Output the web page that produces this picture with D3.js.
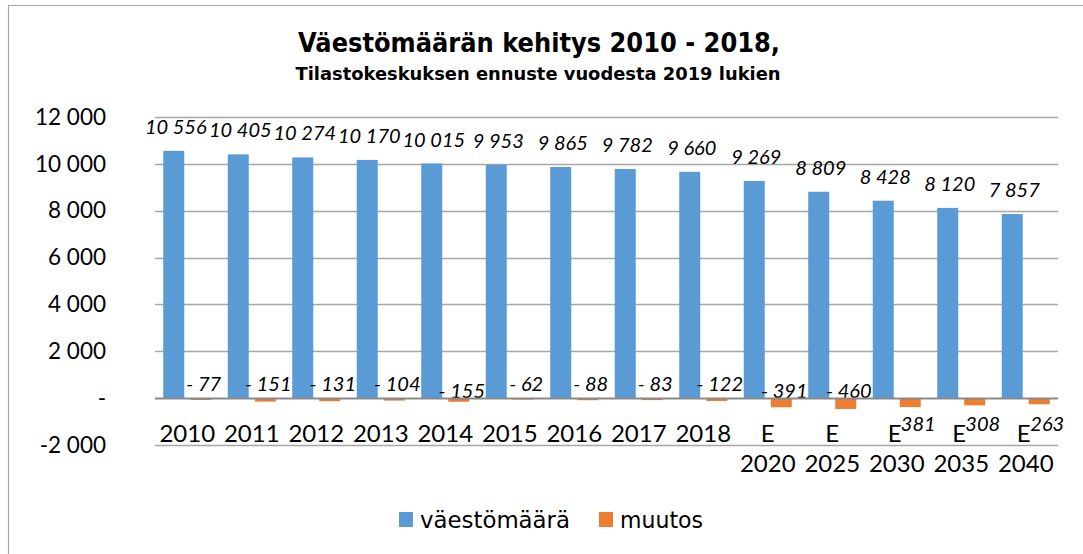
<!DOCTYPE html>
<html>
<head>
<meta charset="utf-8">
<script src="https://cdn.jsdelivr.net/npm/d3@7"></script>
<style>
  body { margin: 0; background: #fff; }
  svg { display: block; }
</style>
</head>
<body>
<svg width="1083" height="554"></svg>
<script>
var categories = ["2010", "2011", "2012", "2013", "2014", "2015", "2016", "2017", "2018",
  "E 2020", "E 2025", "E 2030", "E 2035", "E 2040"];
var seriesNames = ["väestömäärä", "muutos"];
var populationValues = [10556, 10405, 10274, 10170, 10015, 9953, 9865, 9782, 9660, 9269, 8809, 8428, 8120, 7857];
var changeValues = [-77, -151, -131, -104, -155, -62, -88, -83, -122, -391, -460, -381, -308, -263];
var yTicks = [-2000, 0, 2000, 4000, 6000, 8000, 10000, 12000];

var colors = { "väestömäärä": "#5b9bd5", "muutos": "#ed7d31" };

document.addEventListener("DOMContentLoaded", function () {
  var svg = d3.select("svg");

  // chart frame
  svg.append("path")
    .attr("d", "M8.5,600 V5.5 H1100")
    .attr("fill", "none")
    .attr("stroke", "#a6a6a6")
    .attr("stroke-width", 1.2);

  var x0 = d3.scaleBand().domain(categories).range([155, 1058]);
  var x1 = d3.scaleBand().domain(seriesNames).range([0, x0.bandwidth()])
    .paddingInner(0.222).paddingOuter(0.305);
  var y = d3.scaleLinear().domain([-2000, 12000]).range([445, 117]);

  var nf = d3.formatLocale({ decimal: ",", thousands: "\u00a0", grouping: [3], currency: ["", ""] }).format(",d");
  function tickFmt(v) { return v === 0 ? "-" : (v < 0 ? "-" + nf(-v) : nf(v)); }

  // gridlines
  svg.append("g").selectAll("line")
    .data(yTicks.filter(function (t) { return t !== 0; }))
    .enter().append("line")
    .attr("x1", 155).attr("x2", 1058)
    .attr("y1", function (d) { return Math.round(y(d)) + 0.5; })
    .attr("y2", function (d) { return Math.round(y(d)) + 0.5; })
    .attr("stroke", "#a6a6a6").attr("stroke-width", 1.5);

  var yAxis = d3.axisLeft(y).tickValues(yTicks).tickFormat(tickFmt).tickSize(0).tickPadding(0);
  svg.append("g")
    .attr("transform", "translate(106,0)")
    .call(yAxis)
    .call(function (g) { g.select(".domain").remove(); })
    .selectAll("text")
    .attr("font-family", "Lato, sans-serif")
    .attr("font-size", 22.5)
    .attr("fill", "#000");

  var rows = categories.map(function (c, i) {
    return { cat: c, i: i, pop: populationValues[i], chg: changeValues[i] };
  });

  var groups = svg.append("g").selectAll("g")
    .data(rows)
    .enter().append("g")
    .attr("transform", function (d) { return "translate(" + x0(d.cat) + ",0)"; });

  groups.append("rect")
    .attr("x", x1("väestömäärä"))
    .attr("width", x1.bandwidth())
    .attr("y", function (d) { return y(d.pop); })
    .attr("height", function (d) { return y(0) - y(d.pop); })
    .attr("fill", colors["väestömäärä"]);

  groups.append("rect")
    .attr("x", x1("muutos"))
    .attr("width", x1.bandwidth())
    .attr("y", y(0))
    .attr("height", function (d) { return y(d.chg) - y(0); })
    .attr("fill", colors["muutos"]);

  // zero axis line
  svg.append("line")
    .attr("x1", 155).attr("x2", 1058)
    .attr("y1", Math.round(y(0)) + 0.5).attr("y2", Math.round(y(0)) + 0.5)
    .attr("stroke", "#898989").attr("stroke-width", 1.8);

  // value labels
  groups.append("text")
    .attr("x", x1("väestömäärä") + x1.bandwidth() / 2 + 2)
    .attr("y", function (d) { return y(d.pop) - 17; })
    .attr("text-anchor", "middle")
    .attr("font-family", "Lato, sans-serif")
    .attr("font-style", "italic")
    .attr("font-size", 20)
    .text(function (d) { return nf(d.pop); });

  groups.append("text")
    .attr("x", function (d) { return x1("muutos") + x1.bandwidth() / 2 + (d.i >= 11 ? 8 : 3); })
    .attr("y", function (d) {
      if (d.i >= 11) return 431;
      return y(0) - (d.chg <= -155 ? 0 : 7);
    })
    .attr("text-anchor", "middle")
    .attr("font-family", "Lato, sans-serif")
    .attr("font-style", "italic")
    .attr("font-size", 20)
    .text(function (d) { return d.i >= 11 ? nf(-d.chg) : "- " + nf(-d.chg); });

  // category labels
  groups.each(function (d) {
    var parts = d.cat.split(" ");
    var g = d3.select(this);
    parts.forEach(function (p, k) {
      g.append("text")
        .attr("x", x0.bandwidth() / 2 - (parts.length > 1 && k === 0 && d.i >= 11 ? 2 : 0))
        .attr("y", k === 0 ? 442 : 472)
        .attr("text-anchor", "middle")
        .attr("font-family", "Lato, sans-serif")
        .attr("font-size", 24)
        .text(p);
    });
  });

  // title
  svg.append("text")
    .attr("x", 539).attr("y", 52)
    .attr("text-anchor", "middle")
    .attr("font-family", "'DejaVu Sans', sans-serif")
    .attr("font-weight", "bold")
    .attr("font-size", 26)
    .attr("textLength", 482).attr("lengthAdjust", "spacingAndGlyphs")
    .text("Väestömäärän kehitys 2010 - 2018,");
  svg.append("text")
    .attr("x", 538).attr("y", 80)
    .attr("text-anchor", "middle")
    .attr("font-family", "'DejaVu Sans', sans-serif")
    .attr("font-weight", "bold")
    .attr("font-size", 17)
    .attr("textLength", 485).attr("lengthAdjust", "spacingAndGlyphs")
    .text("Tilastokeskuksen ennuste vuodesta 2019 lukien");

  // legend
  var legendX = [399, 599];
  var legendW = [150, 83];
  var legend = svg.append("g").selectAll("g")
    .data(seriesNames)
    .enter().append("g")
    .attr("transform", function (d, i) { return "translate(" + legendX[i] + ",512)"; });
  legend.append("rect")
    .attr("width", 14).attr("height", 15)
    .attr("fill", function (d) { return colors[d]; });
  legend.append("text")
    .attr("x", 21).attr("y", 16)
    .attr("font-family", "'DejaVu Sans', sans-serif")
    .attr("font-size", 23)
    .attr("textLength", function (d, i) { return legendW[i]; })
    .attr("lengthAdjust", "spacingAndGlyphs")
    .text(function (d) { return d; });
});
</script>
</body>
</html>
